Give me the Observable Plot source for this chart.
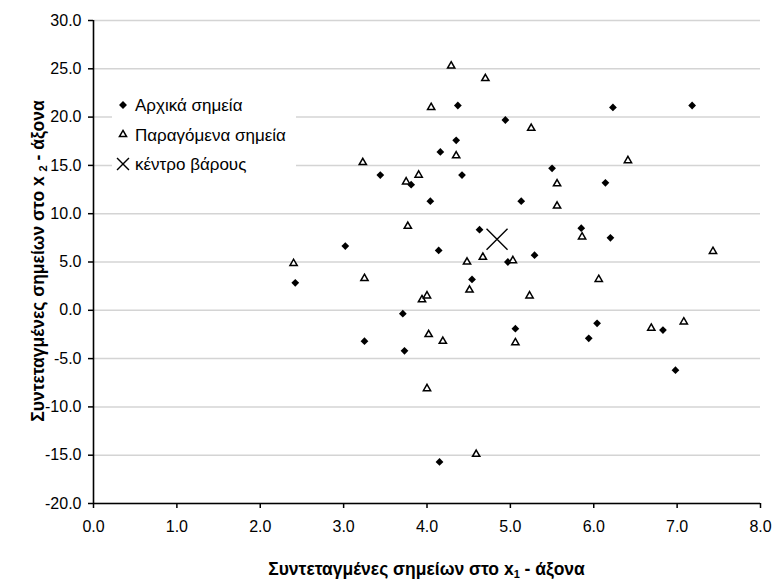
<!DOCTYPE html>
<html>
<head>
<meta charset="utf-8">
<script src="https://cdn.jsdelivr.net/npm/d3@7"></script>
<script src="https://cdn.jsdelivr.net/npm/@observablehq/plot@0.6"></script>
<style>
  html, body { margin: 0; padding: 0; background: #fff; }
  #chart { width: 773px; height: 579px; overflow: hidden; }
</style>
</head>
<body>
<div id="chart"></div>
<script>
// Original points (x1, x2)
const origX = [4.37, 4.94, 4.35, 4.16, 3.44, 3.81, 4.42, 4.04, 5.13, 4.63,
               3.02, 4.14, 4.97, 6.23, 7.18, 5.50, 6.14, 5.85, 6.20, 5.29,
               4.54, 2.42, 3.25, 3.71, 5.06, 6.04, 5.94, 3.73, 6.83, 6.98, 4.15];
const origY = [21.2, 19.7, 17.6, 16.4, 14.0, 13.0, 14.0, 11.3, 11.3, 8.35,
               6.65, 6.2, 5.0, 21.0, 21.2, 14.7, 13.2, 8.5, 7.5, 5.7,
               3.2, 2.85, -3.2, -0.35, -1.9, -1.35, -2.9, -4.2, -2.05, -6.2, -15.7];

// Generated points (x1, x2)
const genX = [4.29, 4.70, 4.05, 4.35, 3.23, 3.75, 3.90, 3.77, 2.40, 4.48,
              4.67, 5.03, 5.25, 6.41, 5.56, 5.56, 5.86, 7.43, 6.06, 3.25,
              4.51, 3.94, 4.00, 5.23, 5.06, 4.02, 4.19, 6.69, 7.08, 4.00, 4.59];
const genY = [25.3, 24.0, 21.0, 16.0, 15.3, 13.3, 14.0, 8.7, 4.85, 5.0,
              5.5, 5.15, 18.85, 15.5, 13.1, 10.8, 7.6, 6.1, 3.2, 3.3,
              2.1, 1.1, 1.5, 1.5, -3.35, -2.5, -3.2, -1.85, -1.2, -8.1, -14.9];

// Centre of gravity
const centroidX = [4.84];
const centroidY = [7.35];

// Axis ticks
const xTicks = [0, 1, 2, 3, 4, 5, 6, 7, 8];
const yTicks = [-20, -15, -10, -5, 0, 5, 10, 15, 20, 25, 30];

// Legend entries
const legendLabels = ["Αρχικά σημεία", "Παραγόμενα σημεία", "κέντρο βάρους"];

const original = origX.map((x, i) => ({x, y: origY[i]}));
const generated = genX.map((x, i) => ({x, y: genY[i]}));
const centroid = centroidX.map((x, i) => ({x, y: centroidY[i]}));

const fmt = d => d.toFixed(1);
const FONT = "'Liberation Sans', Arial, Helvetica, sans-serif";

const chart = Plot.plot({
  width: 773,
  height: 579,
  marginLeft: 93,
  marginRight: 13,
  marginTop: 20,
  marginBottom: 76,
  style: {fontFamily: FONT, fontSize: "16px", color: "#000", background: "#fff"},
  x: {domain: [0, 8]},
  y: {domain: [-20, 30]},
  marks: [
    Plot.gridY(yTicks, {stroke: "#d4d4d4", strokeOpacity: 1, strokeWidth: 1.5}),
    Plot.axisX(xTicks, {tickSize: 5, tickPadding: 12, tickFormat: fmt, label: null, stroke: "#000", strokeWidth: 1.5}),
    Plot.axisY(yTicks, {tickSize: 5, tickPadding: 7, tickFormat: fmt, label: null, stroke: "#000", strokeWidth: 1.5}),
    Plot.ruleX([0], {stroke: "#000", strokeWidth: 1.6}),
    Plot.ruleY([-20], {stroke: "#000", strokeWidth: 1.6}),
    Plot.dot(original, {x: "x", y: "y", symbol: "diamond2", r: 3.5, fill: "#000", stroke: "none"}),
    Plot.dot(generated, {x: "x", y: "y", symbol: "triangle", r: 2.7, fill: "#fff", stroke: "#000", strokeWidth: 1.5}),
    Plot.dot(centroid, {x: "x", y: "y", symbol: "times", r: 9.6, stroke: "#000", strokeWidth: 1.4})
  ]
});

document.getElementById("chart").append(chart);

const svg = d3.select(chart);

// Legend box (white background interrupts the grid lines)
const legend = svg.append("g")
  .attr("font-family", FONT)
  .attr("font-size", 17)
  .attr("text-anchor", "start");
legend.append("rect")
  .attr("x", 112).attr("y", 88).attr("width", 184).attr("height", 92)
  .attr("fill", "#fff");

const legendSymbols = [
  {type: d3.symbolDiamond2, size: 40, fill: "#000", stroke: "none", sw: 0},
  {type: d3.symbolTriangle, size: 22, fill: "#fff", stroke: "#000", sw: 1.5},
  {type: d3.symbolTimes, size: 95, fill: "none", stroke: "#000", sw: 1.4}
];
legendLabels.forEach((label, i) => {
  const cy = 105 + i * 29.5;
  const s = legendSymbols[i];
  legend.append("path")
    .attr("transform", `translate(123,${cy})`)
    .attr("d", d3.symbol(s.type, s.size)())
    .attr("fill", s.fill)
    .attr("stroke", s.stroke)
    .attr("stroke-width", s.sw);
  legend.append("text")
    .attr("x", 135).attr("y", cy + 6)
    .attr("fill", "#000")
    .text(label);
});

// Axis titles with subscripts
const xTitle = svg.append("text")
  .attr("x", 426.5).attr("y", 575)
  .attr("text-anchor", "middle")
  .attr("font-family", FONT).attr("font-size", 17.5).attr("font-weight", "bold")
  .attr("fill", "#000");
xTitle.append("tspan").text("Συντεταγμένες σημείων στο x");
xTitle.append("tspan").attr("font-size", 11).attr("dy", 3).text("1");
xTitle.append("tspan").attr("dy", -3).text(" - άξονα");

const yTitle = svg.append("text")
  .attr("transform", "translate(44,261) rotate(-90)")
  .attr("text-anchor", "middle")
  .attr("font-family", FONT).attr("font-size", 17.5).attr("font-weight", "bold")
  .attr("fill", "#000");
yTitle.append("tspan").text("Συντεταγμένες σημείων στο x ");
yTitle.append("tspan").attr("font-size", 11).attr("dy", 3).text("2");
yTitle.append("tspan").attr("dy", -3).text(" - άξονα");
</script>
</body>
</html>
